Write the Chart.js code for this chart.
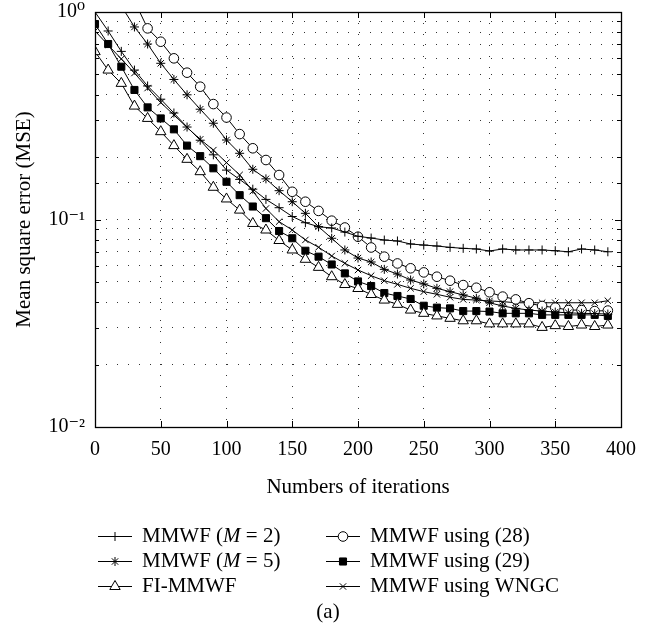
<!DOCTYPE html>
<html>
<head>
<meta charset="utf-8">
<script src="https://cdn.jsdelivr.net/npm/chart.js@4/dist/chart.umd.min.js"></script>
<style>
  html, body { margin: 0; padding: 0; background: #fff; }
  canvas { display: block; }
</style>
</head>
<body>
<canvas id="mseChart" width="655" height="632"></canvas>
<script>
// Iteration index of every plotted marker
const iterations = [0, 10, 20, 30, 40, 50, 60, 70, 80, 90,
    100, 110, 120, 130, 140, 150, 160, 170, 180, 190,
    200, 210, 220, 230, 240, 250, 260, 270, 280, 290,
    300, 310, 320, 330, 340, 350, 360, 370, 380, 390];

// MSE values (null = above the plotted range)
const mseM2 = [1.0, 0.81, 0.646, 0.525, 0.44, 0.38, 0.326, 0.279, 0.241, 0.205,
    0.173, 0.156, 0.140, 0.125, 0.114, 0.1034, 0.0965, 0.0923, 0.091, 0.087,
    0.083, 0.0814, 0.0796, 0.0788, 0.0762, 0.0753, 0.0745, 0.0734, 0.0726, 0.0721,
    0.0705, 0.0721, 0.0713, 0.0713, 0.0713, 0.0707, 0.0699, 0.0721, 0.0713, 0.0699];
const mseM5 = [null, null, 1.07, 0.847, 0.701, 0.566, 0.473, 0.399, 0.340, 0.291,
    0.2416, 0.2085, 0.1746, 0.157, 0.1377, 0.1218, 0.1071, 0.0923, 0.0812, 0.0713,
    0.0652, 0.0624, 0.0575, 0.0546, 0.0511, 0.0489, 0.0466, 0.0449, 0.0433, 0.0417,
    0.0397, 0.0383, 0.0373, 0.0366, 0.0362, 0.0358, 0.0355, 0.0353, 0.0352, 0.035];
const mseFI = [0.644, 0.525, 0.453, 0.352, 0.307, 0.265, 0.227, 0.195, 0.170, 0.143,
    0.1256, 0.111, 0.0957, 0.089, 0.0792, 0.0713, 0.0643, 0.0588, 0.053, 0.0486,
    0.0465, 0.0435, 0.0409, 0.039, 0.0366, 0.0353, 0.0343, 0.0334, 0.0325, 0.0325,
    0.0314, 0.0314, 0.0314, 0.0314, 0.0302, 0.0308, 0.0305, 0.031, 0.0305, 0.031];
const mseEq28 = [null, null, null, 1.13, 0.834, 0.719, 0.598, 0.510, 0.4365, 0.360,
    0.31, 0.258, 0.2204, 0.1935, 0.1638, 0.136, 0.1218, 0.110, 0.0987, 0.0915,
    0.0826, 0.0733, 0.0662, 0.0614, 0.0582, 0.0556, 0.053, 0.0507, 0.0483, 0.0469,
    0.0446, 0.0425, 0.0412, 0.0395, 0.0383, 0.0376, 0.0366, 0.0366, 0.0362, 0.0364];
const mseEq29 = [0.875, 0.701, 0.545, 0.421, 0.347, 0.307, 0.272, 0.227, 0.202, 0.1765,
    0.152, 0.131, 0.1155, 0.1015, 0.088, 0.0812, 0.0707, 0.0662, 0.0607, 0.055,
    0.0503, 0.0478, 0.0442, 0.0428, 0.0414, 0.0384, 0.0376, 0.0373, 0.0362, 0.0362,
    0.036, 0.0353, 0.0353, 0.0353, 0.0347, 0.0347, 0.0347, 0.0347, 0.0347, 0.0343];
const mseWNGC = [0.81, 0.693, 0.594, 0.508, 0.430, 0.366, 0.319, 0.278, 0.2434, 0.216,
    0.188, 0.164, 0.137, 0.113, 0.0976, 0.089, 0.0797, 0.0735, 0.0667, 0.0615,
    0.0571, 0.0536, 0.0507, 0.0487, 0.0466, 0.0449, 0.0436, 0.0422, 0.0412, 0.0409,
    0.0405, 0.0402, 0.0397, 0.0397, 0.0397, 0.0397, 0.0397, 0.0397, 0.0397, 0.0406];

const seriesLabels = ['MMWF (M = 2)', 'MMWF (M = 5)', 'FI-MMWF',
    'MMWF using (28)', 'MMWF using (29)', 'MMWF using WNGC'];
const xRange = [0, 400];
const xStep = 50;
const yRange = [0.01, 1];

const FONT = '"Liberation Serif", "DejaVu Serif", serif';
const SUP = { '-': '\u207B', '0': '\u2070', '1': '\u00B9', '2': '\u00B2' };

function toPoints(values) {
    return iterations.map((it, i) => ({ x: it, y: values[i] }));
}

function series(label, values, pointStyle, radius, fill) {
    return {
        label: label,
        data: toPoints(values),
        borderColor: '#000',
        borderWidth: 1,
        pointStyle: pointStyle,
        pointRadius: radius,
        pointBackgroundColor: fill,
        pointBorderColor: '#000',
        pointBorderWidth: 1,
        tension: 0,
        spanGaps: false
    };
}

const datasets = [
    series(seriesLabels[0], mseM2, 'cross', 4.5, '#000'),
    series(seriesLabels[1], mseM5, 'star', 4.5, '#000'),
    series(seriesLabels[2], mseFI, 'triangle', 6, '#fff'),
    series(seriesLabels[3], mseEq28, 'circle', 4.8, '#fff'),
    series(seriesLabels[4], mseEq29, 'rect', 5, '#000'),
    series(seriesLabels[5], mseWNGC, 'crossRot', 4.5, '#000')
];

// Draw a label, setting a standalone "M" in italics
function drawLabel(ctx, text, x, y, size) {
    const parts = text.split(/(\bM\b)/);
    let cx = x;
    parts.forEach(p => {
        if (!p) return;
        ctx.font = (p === 'M' ? 'italic ' : '') + size + 'px ' + FONT;
        ctx.fillText(p, cx, y);
        cx += ctx.measureText(p).width;
    });
}

// Box, inward tick marks, legend and caption
const frameAndLegend = {
    id: 'frameAndLegend',
    afterDraw(chart) {
        const { ctx, chartArea: a, scales: { x, y } } = chart;
        ctx.save();
        ctx.strokeStyle = '#000';
        ctx.lineWidth = 1;
        ctx.beginPath();
        x.ticks.forEach(t => {
            const px = Math.round(x.getPixelForValue(t.value)) + 0.5;
            ctx.moveTo(px, a.bottom); ctx.lineTo(px, a.bottom - 6);
            ctx.moveTo(px, a.top); ctx.lineTo(px, a.top + 6);
        });
        y.ticks.forEach(t => {
            const py = Math.round(y.getPixelForValue(t.value)) + 0.5;
            const len = t.major ? 6 : 4;
            ctx.moveTo(a.left, py); ctx.lineTo(a.left + len, py);
            ctx.moveTo(a.right, py); ctx.lineTo(a.right - len, py);
        });
        ctx.stroke();
        ctx.lineWidth = 1.3;
        ctx.strokeRect(Math.round(a.left) + 0.5, Math.round(a.top) + 0.5,
            Math.round(a.width), Math.round(a.height));

        // legend: two columns of three rows
        const rows = [536, 561, 586];
        const cols = [{ x1: 98, x2: 132, tx: 142 }, { x1: 326, x2: 360, tx: 370 }];
        chart.data.datasets.forEach((ds, i) => {
            const col = cols[Math.floor(i / 3)];
            const ry = rows[i % 3];
            ctx.lineWidth = 1;
            ctx.strokeStyle = '#000';
            ctx.beginPath();
            ctx.moveTo(col.x1, ry + 0.5);
            ctx.lineTo(col.x2, ry + 0.5);
            ctx.stroke();
            ctx.fillStyle = ds.pointBackgroundColor;
            Chart.helpers.drawPoint(ctx, {
                pointStyle: ds.pointStyle,
                radius: ds.pointRadius,
                borderWidth: 1,
                rotation: 0
            }, (col.x1 + col.x2) / 2, ry + 0.5);
            ctx.fillStyle = '#000';
            ctx.textBaseline = 'middle';
            ctx.textAlign = 'left';
            drawLabel(ctx, ds.label, col.tx, ry, 21);
        });

        ctx.textAlign = 'center';
        ctx.font = '21px ' + FONT;
        ctx.fillText('(a)', 328, 612);
        ctx.restore();
    }
};

new Chart(document.getElementById('mseChart').getContext('2d'), {
    type: 'line',
    data: { datasets: datasets },
    options: {
        responsive: false,
        animation: false,
        events: [],
        layout: { padding: { left: 0, top: 12, right: 34, bottom: 128 } },
        plugins: { legend: { display: false }, tooltip: { enabled: false } },
        scales: {
            x: {
                type: 'linear',
                min: xRange[0],
                max: xRange[1],
                afterFit: (scale) => {
                    scale.height = 77;
                    scale.paddingLeft = 0;
                    scale.paddingRight = 0;
                },
                ticks: { stepSize: xStep, color: '#000', padding: 11, font: { family: FONT, size: 20 } },
                grid: { color: '#333', lineWidth: 1, drawTicks: false },
                border: { display: false, dash: [1, 10] },
                title: {
                    display: true, text: 'Numbers of iterations', color: '#000',
                    font: { family: FONT, size: 21 }, padding: { top: 0, bottom: 4 }
                }
            },
            y: {
                type: 'logarithmic',
                min: yRange[0],
                max: yRange[1],
                afterFit: (scale) => {
                    scale.width = 95;
                    scale.paddingTop = 0;
                    scale.paddingBottom = 0;
                },
                ticks: {
                    autoSkip: false,
                    color: '#000',
                    padding: 10,
                    font: { family: FONT, size: 20 },
                    callback: (value) => {
                        const e = Math.log10(value);
                        if (Math.abs(e - Math.round(e)) > 1e-9) return '';
                        return '10' + String(Math.round(e)).split('').map(c => SUP[c]).join('');
                    }
                },
                grid: { color: '#333', lineWidth: 1, drawTicks: false },
                border: { display: false, dash: [1, 10] },
                title: {
                    display: true, text: 'Mean square error (MSE)', color: '#000',
                    font: { family: FONT, size: 21 }, padding: { top: 12, bottom: 0 }
                }
            }
        }
    },
    plugins: [frameAndLegend]
});
</script>
</body>
</html>
